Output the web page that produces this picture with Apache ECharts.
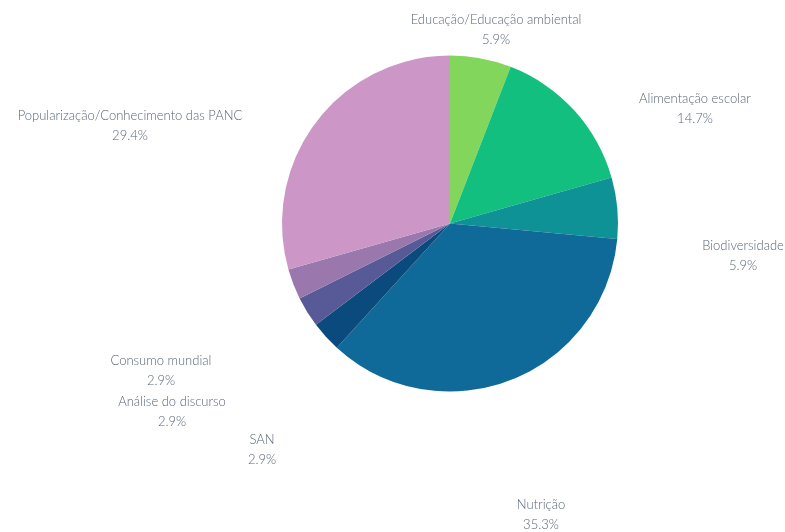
<!DOCTYPE html>
<html>
<head>
<meta charset="utf-8">
<script src="https://cdn.jsdelivr.net/npm/echarts@6/dist/echarts.min.js"></script>
<style>
  html, body { margin: 0; padding: 0; background: #fff; }
  #chart { width: 785px; height: 532px; }
</style>
</head>
<body>
<div id="chart"></div>
<script>
// Temas dos estudos (contagem de publicações)
const categories = [
  'Educação/Educação ambiental',
  'Alimentação escolar',
  'Biodiversidade',
  'Nutrição',
  'SAN',
  'Análise do discurso',
  'Consumo mundial',
  'Popularização/Conhecimento das PANC'
];
const counts = [2, 5, 2, 12, 1, 1, 1, 10];
const colors = ['#82d65c', '#12bf7f', '#0f9296', '#0f6a9a', '#0b4a7c', '#575a96', '#9a78ae', '#cc97c6'];

// Label anchor points (centre of each two-line label)
const labelSpots = [
  [496, 30], [695, 109], [743, 256], [541, 515],
  [262, 450], [172, 412], [161, 371], [130, 126]
];

const total = counts.reduce((a, b) => a + b, 0);

const chart = echarts.init(document.getElementById('chart'), null, { renderer: 'canvas' });
chart.setOption({
  animation: false,
  series: [{
    type: 'pie',
    center: [450, 223.5],
    radius: [0, 168],
    startAngle: 90,
    clockwise: true,
    itemStyle: { borderWidth: 0 },
    data: categories.map((name, i) => ({ name, value: counts[i], itemStyle: { color: colors[i] } })),
    label: {
      show: true,
      position: 'outside',
      formatter: p => p.name + '\n' + (p.value / total * 100).toFixed(1) + '%',
      color: '#5a6676',
      fontFamily: 'Lato',
      fontWeight: 300,
      fontSize: 13,
      lineHeight: 20,
      align: 'center'
    },
    labelLine: { show: false },
    labelLayout: p => ({
      x: labelSpots[p.dataIndex][0],
      y: labelSpots[p.dataIndex][1],
      align: 'center',
      verticalAlign: 'middle'
    })
  }]
});
</script>
</body>
</html>
